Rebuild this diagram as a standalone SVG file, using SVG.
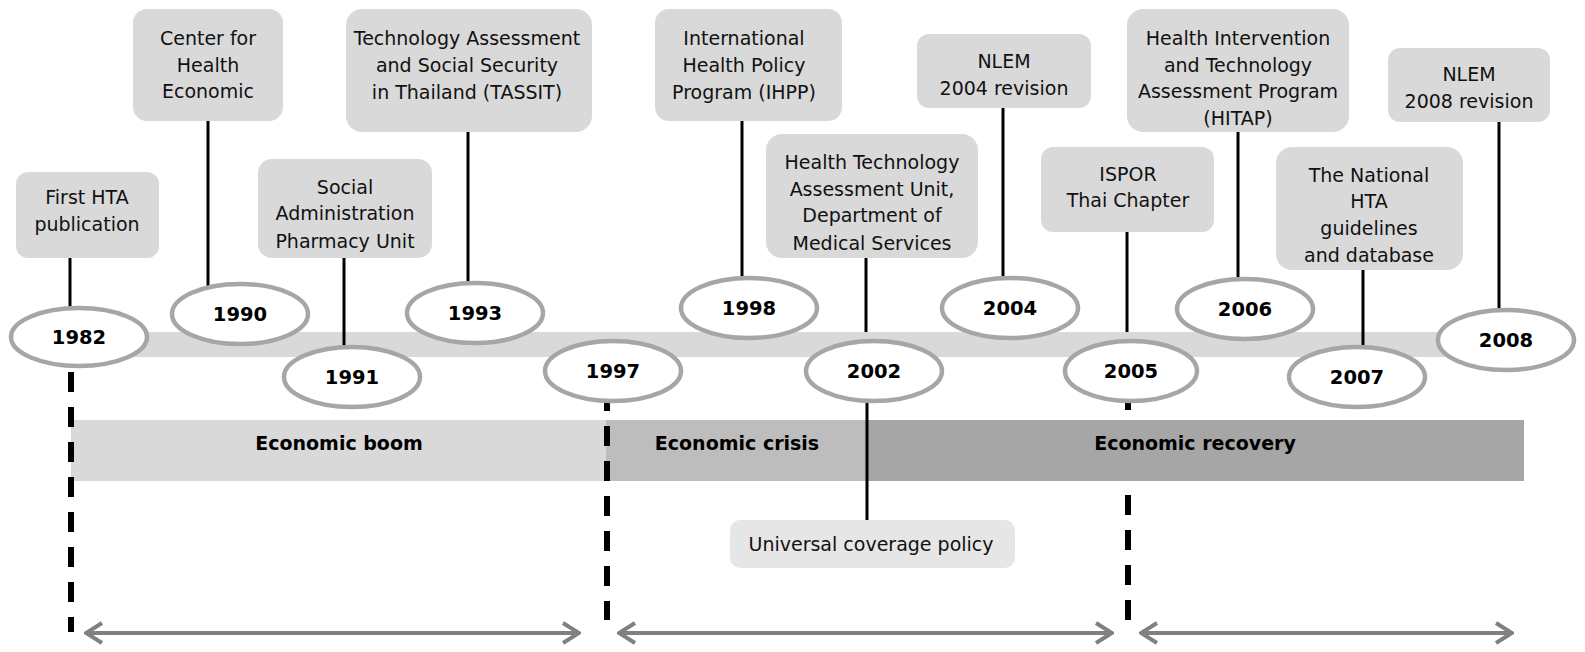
<svg xmlns="http://www.w3.org/2000/svg" width="1585" height="652" viewBox="0 0 1585 652">
<style>
.box{fill:#d9d9d9}
.ubox{fill:#e6e6e6}
.lbl{font-family:"DejaVu Sans","Verdana",sans-serif;font-size:19px;fill:#111;text-anchor:middle}
.yr{font-family:"DejaVu Sans","Verdana",sans-serif;font-size:19.5px;font-weight:bold;fill:#000;text-anchor:middle}
.era{font-family:"DejaVu Sans","Verdana",sans-serif;font-size:19px;font-weight:bold;fill:#000;text-anchor:middle}
.ell{fill:#fff;stroke:#a6a6a6;stroke-width:4.5}
.stem{stroke:#000;stroke-width:3;fill:none}
.dash{stroke:#000;stroke-width:6;stroke-dasharray:20 15;fill:none}
.arr{stroke:#808080;stroke-width:4;fill:none;marker-start:url(#head);marker-end:url(#head)}
</style>
<defs>
<marker id="head" viewBox="0 0 20 24" refX="18" refY="12" markerWidth="20" markerHeight="24" markerUnits="userSpaceOnUse" orient="auto-start-reverse">
<path d="M2,2 L18,12 L2,22" fill="none" stroke="#808080" stroke-width="4"/>
</marker>
</defs>

<g id="connectors-back">
<line class="dash" x1="1128" y1="390" x2="1128" y2="620"/>
</g>

<g id="eras">
<rect x="71" y="420" width="536" height="61" fill="#d9d9d9"/>
<rect x="606" y="420" width="262" height="61" fill="#bdbdbd"/>
<rect x="867" y="420" width="657" height="61" fill="#a6a6a6"/>
<text class="era" x="339" y="450">Economic boom</text>
<text class="era" x="737" y="450">Economic crisis</text>
<text class="era" x="1195" y="450">Economic recovery</text>
</g>

<g id="connectors">
<line class="stem" x1="70" y1="258" x2="70" y2="320"/>
<line class="stem" x1="208" y1="121" x2="208" y2="300"/>
<line class="stem" x1="468" y1="132" x2="468" y2="300"/>
<line class="stem" x1="742" y1="121" x2="742" y2="295"/>
<line class="stem" x1="1003" y1="108" x2="1003" y2="295"/>
<line class="stem" x1="1238" y1="132" x2="1238" y2="295"/>
<line class="stem" x1="1499" y1="122" x2="1499" y2="320"/>
<line class="stem" x1="866" y1="258" x2="866" y2="332"/>
<line class="stem" x1="1127" y1="232" x2="1127" y2="332"/>
</g>

<rect id="timeline" x="79" y="332" width="1430" height="25" fill="#d9d9d9"/>

<g id="connectors-front">
<line class="stem" x1="344" y1="258" x2="344" y2="360"/>
<line class="stem" x1="1363" y1="270" x2="1363" y2="360"/>
<line class="stem" x1="867" y1="390" x2="867" y2="520"/>
<line class="dash" x1="71" y1="372" x2="71" y2="632"/>
<line class="dash" x1="607" y1="391" x2="607" y2="620"/>
<line class="arr" x1="86" y1="633" x2="579" y2="633"/>
<line class="arr" x1="619" y1="633" x2="1112" y2="633"/>
<line class="arr" x1="1141" y1="633" x2="1512" y2="633"/>
</g>

<g id="y1982"><ellipse class="ell" cx="79" cy="337" rx="68" ry="29"/><text class="yr" x="79" y="344">1982</text></g>
<g id="y1990"><ellipse class="ell" cx="240" cy="314" rx="68" ry="30"/><text class="yr" x="240" y="321">1990</text></g>
<g id="y1991"><ellipse class="ell" cx="352" cy="377" rx="68" ry="30"/><text class="yr" x="352" y="384">1991</text></g>
<g id="y1993"><ellipse class="ell" cx="475" cy="313" rx="68" ry="30"/><text class="yr" x="475" y="320">1993</text></g>
<g id="y1997"><ellipse class="ell" cx="613" cy="371" rx="68" ry="30"/><text class="yr" x="613" y="378">1997</text></g>
<g id="y1998"><ellipse class="ell" cx="749" cy="308" rx="68" ry="30"/><text class="yr" x="749" y="315">1998</text></g>
<g id="y2002"><ellipse class="ell" cx="874" cy="371" rx="68" ry="30"/><text class="yr" x="874" y="378">2002</text></g>
<g id="y2004"><ellipse class="ell" cx="1010" cy="308" rx="68" ry="30"/><text class="yr" x="1010" y="315">2004</text></g>
<g id="y2005"><ellipse class="ell" cx="1131" cy="371" rx="66" ry="30"/><text class="yr" x="1131" y="378">2005</text></g>
<g id="y2006"><ellipse class="ell" cx="1245" cy="309" rx="68" ry="30"/><text class="yr" x="1245" y="316">2006</text></g>
<g id="y2007"><ellipse class="ell" cx="1357" cy="377" rx="68" ry="30"/><text class="yr" x="1357" y="384">2007</text></g>
<g id="y2008"><ellipse class="ell" cx="1506" cy="340" rx="68" ry="30"/><text class="yr" x="1506" y="347">2008</text></g>

<g id="first-hta"><rect class="box" x="16" y="172" width="143" height="86" rx="12"/>
<text class="lbl" x="87" y="204">First HTA</text><text class="lbl" x="87" y="231">publication</text></g>

<g id="center-health-economic"><rect class="box" x="133" y="9" width="150" height="112" rx="14"/>
<text class="lbl" x="208" y="45">Center for</text><text class="lbl" x="208" y="72">Health</text><text class="lbl" x="208" y="98">Economic</text></g>

<g id="social-admin"><rect class="box" x="258" y="159" width="174" height="99" rx="14"/>
<text class="lbl" x="345" y="194">Social</text><text class="lbl" x="345" y="220">Administration</text><text class="lbl" x="345" y="248">Pharmacy Unit</text></g>

<g id="tassit"><rect class="box" x="346" y="9" width="246" height="123" rx="16"/>
<text class="lbl" x="467" y="45">Technology Assessment</text><text class="lbl" x="467" y="72">and Social Security</text><text class="lbl" x="467" y="99">in Thailand (TASSIT)</text></g>

<g id="ihpp"><rect class="box" x="655" y="9" width="187" height="112" rx="14"/>
<text class="lbl" x="744" y="45">International</text><text class="lbl" x="744" y="72">Health Policy</text><text class="lbl" x="744" y="99">Program (IHPP)</text></g>

<g id="hta-unit"><rect class="box" x="766" y="134" width="212" height="124" rx="16"/>
<text class="lbl" x="872" y="169">Health Technology</text><text class="lbl" x="872" y="196">Assessment Unit,</text><text class="lbl" x="872" y="222">Department of</text><text class="lbl" x="872" y="250">Medical Services</text></g>

<g id="nlem-2004"><rect class="box" x="917" y="34" width="174" height="74" rx="12"/>
<text class="lbl" x="1004" y="68">NLEM</text><text class="lbl" x="1004" y="95">2004 revision</text></g>

<g id="ispor"><rect class="box" x="1041" y="147" width="173" height="85" rx="12"/>
<text class="lbl" x="1128" y="181">ISPOR</text><text class="lbl" x="1128" y="207">Thai Chapter</text></g>

<g id="hitap"><rect class="box" x="1127" y="9" width="222" height="123" rx="16"/>
<text class="lbl" x="1238" y="45">Health Intervention</text><text class="lbl" x="1238" y="72">and Technology</text><text class="lbl" x="1238" y="98">Assessment Program</text><text class="lbl" x="1238" y="125">(HITAP)</text></g>

<g id="national-hta"><rect class="box" x="1276" y="147" width="187" height="123" rx="16"/>
<text class="lbl" x="1369" y="182">The National</text><text class="lbl" x="1369" y="208">HTA</text><text class="lbl" x="1369" y="235">guidelines</text><text class="lbl" x="1369" y="262">and database</text></g>

<g id="nlem-2008"><rect class="box" x="1388" y="48" width="162" height="74" rx="12"/>
<text class="lbl" x="1469" y="81">NLEM</text><text class="lbl" x="1469" y="108">2008 revision</text></g>

<g id="universal-coverage"><rect class="ubox" x="730" y="520" width="285" height="48" rx="10"/>
<text class="lbl" x="871" y="551">Universal coverage policy</text></g>
</svg>
